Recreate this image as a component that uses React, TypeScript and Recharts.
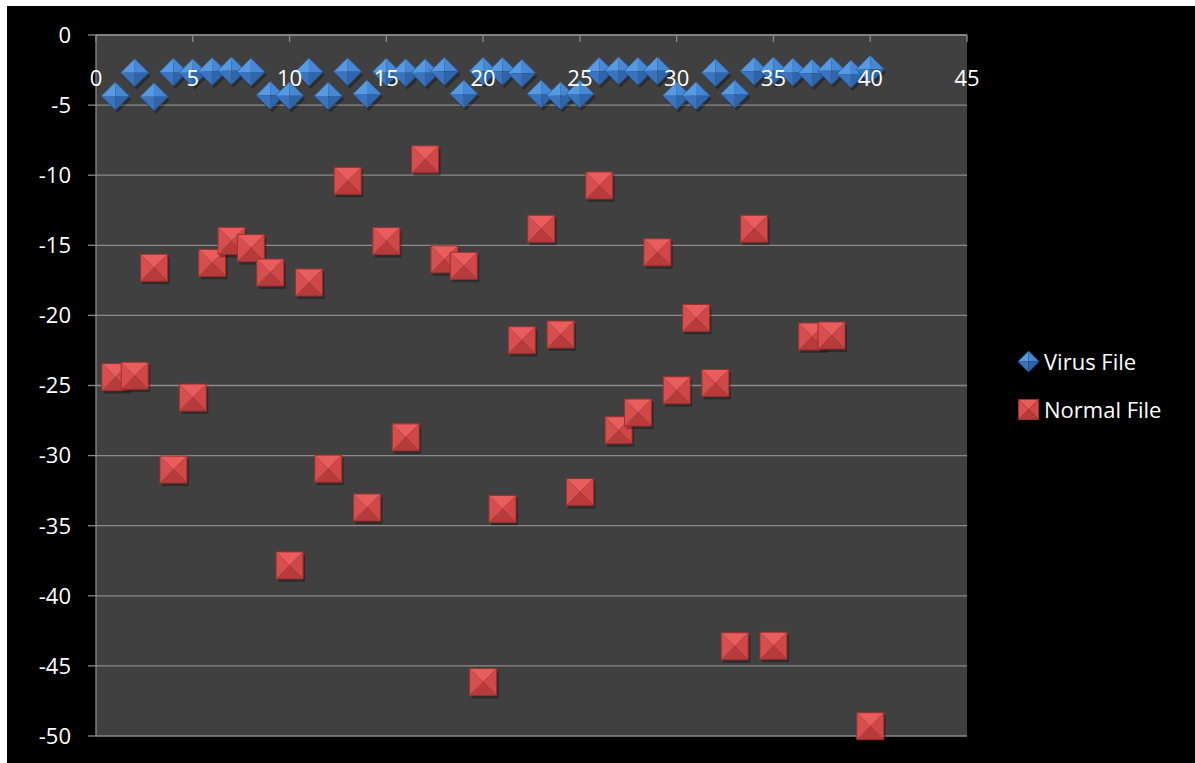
import { CartesianGrid, Legend, Scatter, ScatterChart, XAxis, YAxis } from "recharts"

const fileIds = [
    1, 2, 3, 4, 5, 6, 7, 8, 9, 10, 11, 12, 13, 14, 15, 16, 17, 18, 19, 20,
    21, 22, 23, 24, 25, 26, 27, 28, 29, 30, 31, 32, 33, 34, 35, 36, 37, 38, 39, 40,
]

const virusScores = [
    -4.35, -2.69, -4.4, -2.64, -2.7, -2.6, -2.55, -2.64, -4.3, -4.33,
    -2.64, -4.35, -2.62, -4.2, -2.64, -2.69, -2.69, -2.59, -4.2, -2.59,
    -2.59, -2.73, -4.2, -4.33, -4.2, -2.59, -2.55, -2.59, -2.55, -4.33,
    -4.33, -2.69, -4.2, -2.59, -2.55, -2.64, -2.73, -2.55, -2.78, -2.45,
]

// 36 and 39 are not drawn in the original
const normalScores: (number | null)[] = [
    -24.4, -24.3, -16.6, -31.0, -25.86, -16.25, -14.68, -15.2, -16.94, -37.83,
    -17.65, -30.93, -10.4, -33.7, -14.7, -28.7, -8.87, -16.0, -16.46, -46.15,
    -33.8, -21.77, -13.82, -21.36, -32.6, -10.73, -28.19, -26.93, -15.5, -25.34,
    -20.18, -24.82, -43.6, -13.82, -43.56, null, -21.5, -21.43, null, -49.3,
]

const xTicks = [0, 5, 10, 15, 20, 25, 30, 35, 40, 45]
const yTicks = [0, -5, -10, -15, -20, -25, -30, -35, -40, -45, -50]

const seriesNames = ["Virus File", "Normal File"]

const virusData = fileIds.map((x, i) => ({ x, y: virusScores[i] }))
const normalData = fileIds
    .map((x, i) => ({ x, y: normalScores[i] }))
    .filter((d) => d.y !== null)

const FONT = "'Open Sans', sans-serif"
const AXIS_GRAY = "#8a8a8a"
const LEGEND_W = 175

function Diamond({ cx, cy, h = 14 }: any) {
    if (cx == null || cy == null) return null
    const p = (pts: number[][]) => pts.map((q) => q.join(",")).join(" ")
    return (
        <g>
            <polygon
                points={p([[cx - h + 2, cy + 3], [cx + 2, cy - h + 3], [cx + h + 2, cy + 3], [cx + 2, cy + h + 3]])}
                fill="#000"
                opacity={0.3} />
            <polygon points={p([[cx - h, cy], [cx, cy - h], [cx, cy]])} fill="#559ae2" />
            <polygon points={p([[cx, cy - h], [cx + h, cy], [cx, cy]])} fill="#4688d6" />
            <polygon points={p([[cx + h, cy], [cx, cy + h], [cx, cy]])} fill="#2f65ab" />
            <polygon points={p([[cx, cy + h], [cx - h, cy], [cx, cy]])} fill="#3a74bf" />
            <polygon
                points={p([[cx - h, cy], [cx, cy - h], [cx + h, cy], [cx, cy + h]])}
                fill="none"
                stroke="#2b5894"
                strokeWidth={0.8} />
        </g>
    )
}

function Pyramid({ cx, cy, s = 13.5 }: any) {
    if (cx == null || cy == null) return null
    const p = (pts: number[][]) => pts.map((q) => q.join(",")).join(" ")
    return (
        <g>
            <rect x={cx - s + 2} y={cy - s + 3} width={2 * s} height={2 * s} fill="#000" opacity={0.3} />
            <polygon points={p([[cx - s, cy - s], [cx + s, cy - s], [cx, cy]])} fill="#e95d5d" />
            <polygon points={p([[cx + s, cy - s], [cx + s, cy + s], [cx, cy]])} fill="#d14747" />
            <polygon points={p([[cx + s, cy + s], [cx - s, cy + s], [cx, cy]])} fill="#b83b3b" />
            <polygon points={p([[cx - s, cy + s], [cx - s, cy - s], [cx, cy]])} fill="#d84e4e" />
            <rect x={cx - s} y={cy - s} width={2 * s} height={2 * s} fill="none" stroke="#9a3030" strokeWidth={1} />
        </g>
    )
}

function LegendBox() {
    return (
        <div style={{ fontFamily: FONT, fontSize: 22, color: "#fff" }}>
            {seriesNames.map((name, i) => (
                <div key={name} style={{ display: "flex", alignItems: "center", height: 48 }}>
                    <svg width={23} height={23}>
                        {i === 0
                            ? <Diamond cx={11.5} cy={11.5} h={10.5} />
                            : <Pyramid cx={11.5} cy={11.5} s={10} />}
                    </svg>
                    <span style={{ marginLeft: 4, whiteSpace: "nowrap" }}>{name}</span>
                </div>
            ))}
        </div>
    )
}

export default function App() {
    return (
        <div style={{ position: "absolute", left: 7, top: 6, width: 1188, height: 757, background: "#000" }}>
            {/* legend width gets added to the right offset, so subtract it here */}
            <ScatterChart width={1188} height={757} margin={{ top: 29, right: 228 - LEGEND_W, bottom: 27, left: 0 }}>
                <CartesianGrid
                    vertical={false}
                    stroke={AXIS_GRAY}
                    strokeWidth={1.3}
                    fill="#404040"
                    fillOpacity={1} />
                <XAxis
                    type="number"
                    dataKey="x"
                    domain={[0, 45]}
                    ticks={xTicks}
                    interval={0}
                    orientation="top"
                    mirror
                    tickSize={7}
                    tickMargin={28}
                    axisLine={{ stroke: AXIS_GRAY, strokeWidth: 1.3 }}
                    tickLine={{ stroke: AXIS_GRAY, strokeWidth: 1.3 }}
                    tick={{ fill: "#fff", fontSize: 22, fontFamily: FONT }} />
                <YAxis
                    type="number"
                    dataKey="y"
                    domain={[-50, 0]}
                    ticks={yTicks}
                    interval={0}
                    width={89}
                    tickSize={8}
                    tickMargin={17}
                    axisLine={{ stroke: AXIS_GRAY, strokeWidth: 1.3 }}
                    tickLine={{ stroke: AXIS_GRAY, strokeWidth: 1.3 }}
                    tick={{ fill: "#fff", fontSize: 22, fontFamily: FONT }} />
                <Legend
                    layout="horizontal"
                    verticalAlign="middle"
                    align="right"
                    wrapperStyle={{ left: 1010, top: 331, width: LEGEND_W }}
                    content={() => <LegendBox />} />
                <Scatter
                    name={seriesNames[0]}
                    data={virusData}
                    fill="#4688d6"
                    shape={(props: any) => <Diamond cx={props.cx} cy={props.cy} />}
                    isAnimationActive={false} />
                <Scatter
                    name={seriesNames[1]}
                    data={normalData}
                    fill="#d14747"
                    shape={(props: any) => <Pyramid cx={props.cx} cy={props.cy} />}
                    isAnimationActive={false} />
            </ScatterChart>
        </div>
    )
}
